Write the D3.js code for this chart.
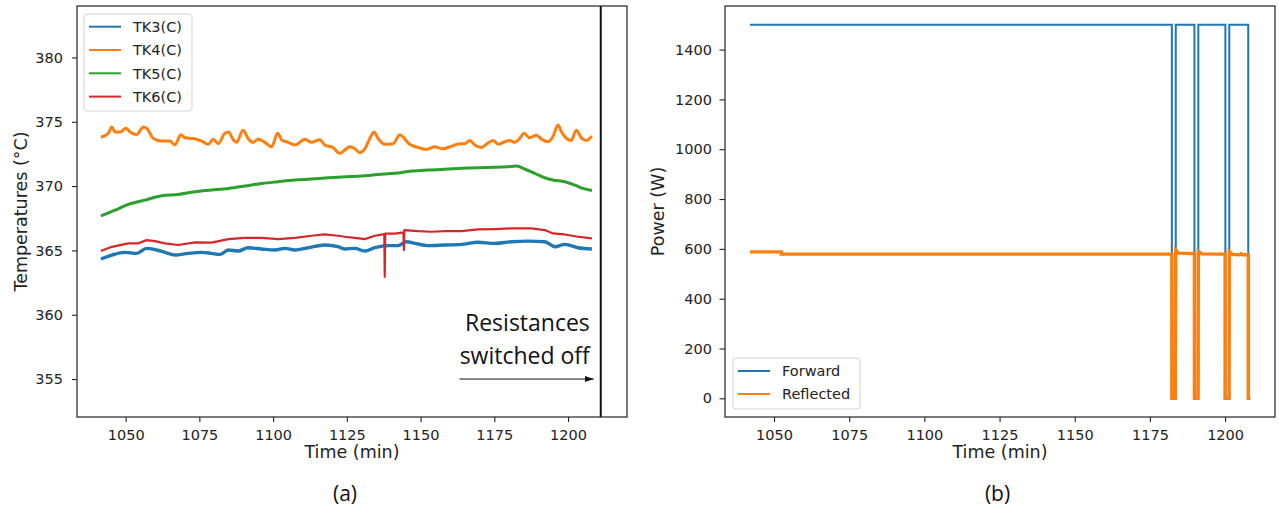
<!DOCTYPE html>
<html>
<head>
<meta charset="utf-8">
<script src="https://cdn.jsdelivr.net/npm/d3@7"></script>
<style>
	body { margin: 0; background: #fff; }
	svg { display: block; background: #fff; }
	.tick text { font-family: "DejaVu Sans", sans-serif; font-size: 14.5px; fill: #222; }
	.tick line { stroke: #222; stroke-width: 1.1; }
	.domain { display: none; }
	.axis-label { font-family: "DejaVu Sans", sans-serif; font-size: 17.5px; fill: #222; }
	.legend text { font-family: "DejaVu Sans", sans-serif; font-size: 14.5px; fill: #222; }
	.note { font-family: "Open Sans", sans-serif; font-size: 23px; fill: #111; }
	.panel { font-family: "Open Sans", sans-serif; font-size: 21px; fill: #111; }
</style>
</head>
<body>
<svg width="1279" height="512"></svg>
<script>
// ---- data ----
const timeTicks = [1050, 1075, 1100, 1125, 1150, 1175, 1200]
const tempTicks = [355, 360, 365, 370, 375, 380]
const powerTicks = [0, 200, 400, 600, 800, 1000, 1200, 1400]

const tempNames = ['TK3(C)', 'TK4(C)', 'TK5(C)', 'TK6(C)']
const powerNames = ['Forward', 'Reflected']

// [time (min), temperature (°C)]
const tk3 = [[1041.6,364.33],[1045.3,364.64],[1049.8,364.85],[1053.7,364.77],[1057.1,365.16],[1060.5,365.03],[1063.3,364.85],[1066.7,364.64],[1071.2,364.77],[1075.8,364.85],[1079.1,364.77],[1082.0,364.69],[1084.8,365.03],[1088.2,364.95],[1091.5,365.21],[1096.1,365.11],[1100.6,365.03],[1104.0,365.16],[1107.4,365.03],[1111.9,365.21],[1117.5,365.42],[1122.0,365.29],[1124.3,365.11],[1127.7,365.16],[1131.1,364.95],[1134.5,365.21],[1139.0,365.37],[1142.4,365.37],[1145.2,365.67],[1148.0,365.55],[1152.5,365.37],[1158.2,365.42],[1163.9,365.47],[1169.5,365.63],[1175.1,365.55],[1180.8,365.67],[1186.4,365.72],[1192.1,365.67],[1195.5,365.29],[1198.9,365.47],[1203.4,365.21],[1208.1,365.11]]

const tk4 = [[1041.6,373.8],[1044.1,374.1],[1045.3,374.6],[1046.4,374.2],[1048.1,374.2],[1050.1,374.5],[1051.5,374.2],[1053.7,374.0],[1056.0,374.6],[1057.1,374.5],[1059.4,373.7],[1062.2,373.5],[1065.0,373.5],[1066.7,373.2],[1068.7,374.0],[1070.1,373.75],[1072.9,373.7],[1075.8,373.5],[1078.0,373.25],[1079.7,373.65],[1081.4,373.3],[1083.6,374.1],[1084.8,374.2],[1086.5,373.6],[1087.6,373.4],[1089.8,374.35],[1091.5,373.7],[1093.2,373.4],[1094.9,373.65],[1097.2,373.4],[1099.5,373.05],[1101.5,374.1],[1102.9,373.6],[1105.1,373.4],[1107.4,373.2],[1110.8,373.65],[1113.0,373.4],[1115.8,373.6],[1117.5,373.2],[1120.3,373.0],[1122.6,372.55],[1124.3,372.8],[1126.0,373.05],[1127.7,372.9],[1129.4,372.6],[1131.1,372.9],[1132.8,373.7],[1134.2,374.2],[1135.6,373.7],[1137.9,373.25],[1140.7,373.3],[1143.0,374.0],[1144.1,373.8],[1146.3,373.25],[1149.2,373.0],[1152.0,372.85],[1154.8,373.05],[1157.6,372.9],[1160.5,373.1],[1163.3,373.3],[1165.0,373.3],[1166.7,373.55],[1168.4,373.2],[1170.6,373.0],[1172.3,373.25],[1174.6,373.55],[1176.3,373.25],[1178.5,373.45],[1180.2,373.55],[1181.9,373.4],[1183.6,373.7],[1185.1,374.1],[1187.0,373.75],[1189.3,373.95],[1191.0,373.65],[1193.2,373.45],[1194.9,373.85],[1196.6,374.75],[1197.8,374.2],[1199.5,373.7],[1201.1,373.55],[1202.8,374.35],[1204.5,373.75],[1206.2,373.55],[1208.1,373.9]]

const tk5 = [[1041.6,367.69],[1046.4,368.13],[1050.9,368.58],[1056.5,368.91],[1062.2,369.25],[1067.8,369.35],[1073.5,369.56],[1079.1,369.69],[1084.8,369.82],[1090.4,370.0],[1096.1,370.2],[1101.7,370.34],[1107.4,370.47],[1113.0,370.55],[1118.7,370.65],[1124.3,370.73],[1130.0,370.78],[1135.6,370.9],[1141.3,370.99],[1146.9,371.17],[1152.5,371.25],[1158.2,371.3],[1163.9,371.38],[1169.5,371.43],[1175.1,371.46],[1179.6,371.51],[1182.5,371.56],[1185.3,371.33],[1188.7,370.99],[1192.1,370.65],[1194.9,370.47],[1198.9,370.34],[1202.3,370.08],[1205.1,369.82],[1208.1,369.66]]

const tk6 = [[1041.6,364.95],[1045.3,365.28],[1050.9,365.55],[1054.3,365.55],[1057.1,365.8],[1059.9,365.72],[1063.3,365.55],[1067.8,365.42],[1073.5,365.63],[1079.1,365.6],[1084.8,365.88],[1090.4,365.98],[1096.1,365.98],[1101.7,365.88],[1107.4,365.98],[1113.0,366.14],[1117.5,366.24],[1122.0,366.14],[1124.3,366.06],[1127.7,365.98],[1131.1,365.88],[1134.5,366.14],[1137.7,366.27],[1137.85,362.95],[1138.0,366.3],[1141.3,366.3],[1144.2,366.4],[1144.35,365.03],[1144.5,366.58],[1149.2,366.5],[1153.7,366.45],[1158.2,366.5],[1163.9,366.5],[1169.5,366.63],[1175.1,366.66],[1180.8,366.71],[1184.2,366.71],[1187.6,366.71],[1192.1,366.58],[1194.9,366.32],[1198.9,366.24],[1203.4,366.06],[1208.1,365.93]]

// [time (min), power (W)]
const forward = [[1042,1500],[1182.3,1500],[1182.3,0],[1183.6,0],[1183.6,1500],[1189.8,1500],[1189.8,0],[1191.1,0],[1191.1,1500],[1200.1,1500],[1200.1,0],[1201.4,0],[1201.4,1500],[1207.7,1500],[1207.7,0],[1208.4,0]]

const reflected = [[1042,588],[1052.4,588],[1052.4,579],[1182.3,579],[1182.3,0],[1183.4,0],[1183.6,595],[1184.6,583],[1189.8,581],[1189.8,0],[1191.0,0],[1191.1,590],[1192.2,580],[1200.0,579],[1200.0,0],[1201.3,0],[1201.4,590],[1202.4,578],[1204.8,576],[1205.3,581],[1205.8,576],[1207.7,577],[1207.7,0],[1208.4,0]]

const switchOffTime = 1211.1

// ---- layout / style ----
let config = {
	colors: ['#1f77b4', '#ff7f0e', '#2ca02c', '#d62728'],
	tempWidths: [3.4, 3, 3, 2.2],
	left: { x0: 77, x1: 627, y0: 6, y1: 417 },
	right: { x0: 725, x1: 1275, y0: 6, y1: 417 },
}

let svg = d3.select('svg')
let fmt = d3.format('d')

function frame(box) {
	svg.append('rect')
		.attr('x', box.x0)
		.attr('y', box.y0)
		.attr('width', box.x1 - box.x0)
		.attr('height', box.y1 - box.y0)
		.attr('fill', 'none')
		.attr('stroke', '#222')
		.attr('stroke-width', 1.2)
}

function drawLegend(x, y, w, h, names, colors, rows) {
	let g = svg.append('g').attr('class', 'legend')
	g.append('rect')
		.attr('x', x).attr('y', y)
		.attr('width', w).attr('height', h)
		.attr('rx', 3)
		.attr('fill', 'white').attr('fill-opacity', 0.85)
		.attr('stroke', '#d3d3d3')
	names.forEach((n, i) => {
		g.append('line')
			.attr('x1', x + 5).attr('x2', x + 37)
			.attr('y1', rows[i]).attr('y2', rows[i])
			.attr('stroke', colors[i]).attr('stroke-width', 2)
		g.append('text')
			.attr('x', x + 49).attr('y', rows[i])
			.attr('dy', '0.36em')
			.text(n)
	})
}

function drawTemperature() {
	let box = config.left
	let xScale = d3.scaleLinear().domain([1033.5, 1220]).range([box.x0, box.x1])
	let yScale = d3.scaleLinear().domain([352.05, 384]).range([box.y1, box.y0])

	svg.append('g')
		.attr('transform', `translate(0, ${box.y1})`)
		.call(d3.axisBottom(xScale).tickValues(timeTicks).tickFormat(fmt).tickSize(5).tickPadding(8))
	svg.append('g')
		.attr('transform', `translate(${box.x0}, 0)`)
		.call(d3.axisLeft(yScale).tickValues(tempTicks).tickFormat(fmt).tickSize(5).tickPadding(9))

	let smooth = d3.line()
		.curve(d3.curveMonotoneX)
		.x(d => xScale(d[0]))
		.y(d => yScale(d[1]))
	let sharp = d3.line()
		.x(d => xScale(d[0]))
		.y(d => yScale(d[1]))

	let series = [tk3, tk4, tk5, tk6]
	series.forEach((s, i) => {
		svg.append('path')
			.datum(s)
			.attr('d', i === 3 ? sharp : smooth)
			.attr('fill', 'none')
			.attr('stroke', config.colors[i])
			.attr('stroke-width', config.tempWidths[i])
			.attr('stroke-linejoin', 'round')
	})

	// switch-off marker
	svg.append('line')
		.attr('x1', xScale(switchOffTime)).attr('x2', xScale(switchOffTime))
		.attr('y1', box.y0).attr('y2', box.y1)
		.attr('stroke', '#111').attr('stroke-width', 2)

	svg.append('text')
		.attr('class', 'note')
		.attr('text-anchor', 'end')
		.attr('x', xScale(1207.4))
		.attr('y', yScale(358.7))
		.text('Resistances')
	svg.append('text')
		.attr('class', 'note')
		.attr('text-anchor', 'end')
		.attr('x', xScale(1207.4))
		.attr('y', yScale(356.2))
		.text('switched off')

	svg.append('defs').append('marker')
		.attr('id', 'arrow')
		.attr('viewBox', '0 0 10 10')
		.attr('refX', 10).attr('refY', 5)
		.attr('markerWidth', 9).attr('markerHeight', 9)
		.attr('markerUnits', 'userSpaceOnUse')
		.attr('orient', 'auto')
		.append('path')
		.attr('d', 'M0,1.5 L10,5 L0,8.5 Z')
		.attr('fill', '#111')
	svg.append('line')
		.attr('x1', xScale(1163.2)).attr('x2', xScale(1208.7))
		.attr('y1', yScale(355)).attr('y2', yScale(355))
		.attr('stroke', '#111').attr('stroke-width', 1)
		.attr('marker-end', 'url(#arrow)')

	frame(box)
	drawLegend(84, 14, 108, 97, tempNames, config.colors, [26.7, 50, 73.3, 96.6])

	svg.append('text')
		.attr('class', 'axis-label')
		.attr('text-anchor', 'middle')
		.attr('x', (box.x0 + box.x1) / 2)
		.attr('y', 457.5)
		.text('Time (min)')
	svg.append('text')
		.attr('class', 'axis-label')
		.attr('text-anchor', 'middle')
		.attr('transform', `translate(26.5, ${(box.y0 + box.y1) / 2}) rotate(-90)`)
		.text('Temperatures (°C)')
	svg.append('text')
		.attr('class', 'panel')
		.attr('text-anchor', 'middle')
		.attr('x', 345)
		.attr('y', 501)
		.text('(a)')
}

function drawPower() {
	let box = config.right
	let xScale = d3.scaleLinear().domain([1033.7, 1216.6]).range([box.x0, box.x1])
	let yScale = d3.scaleLinear().domain([-75, 1575]).range([box.y1, box.y0])

	svg.append('g')
		.attr('transform', `translate(0, ${box.y1})`)
		.call(d3.axisBottom(xScale).tickValues(timeTicks).tickFormat(fmt).tickSize(5).tickPadding(8))
	svg.append('g')
		.attr('transform', `translate(${box.x0}, 0)`)
		.call(d3.axisLeft(yScale).tickValues(powerTicks).tickFormat(fmt).tickSize(5.5).tickPadding(7.5))

	let line = d3.line()
		.x(d => xScale(d[0]))
		.y(d => yScale(d[1]))

	svg.append('path')
		.datum(forward)
		.attr('d', line)
		.attr('fill', 'none')
		.attr('stroke', config.colors[0])
		.attr('stroke-width', 2)
	svg.append('path')
		.datum(reflected)
		.attr('d', line)
		.attr('fill', 'none')
		.attr('stroke', config.colors[1])
		.attr('stroke-width', 3.4)

	frame(box)
	drawLegend(733, 358, 127, 51, powerNames, config.colors, [371, 394])

	svg.append('text')
		.attr('class', 'axis-label')
		.attr('text-anchor', 'middle')
		.attr('x', (box.x0 + box.x1) / 2)
		.attr('y', 457.5)
		.text('Time (min)')
	svg.append('text')
		.attr('class', 'axis-label')
		.attr('text-anchor', 'middle')
		.attr('transform', `translate(663.5, ${(box.y0 + box.y1) / 2}) rotate(-90)`)
		.text('Power (W)')
	svg.append('text')
		.attr('class', 'panel')
		.attr('text-anchor', 'middle')
		.attr('x', 997.5)
		.attr('y', 501)
		.text('(b)')
}

drawTemperature()
drawPower()
</script>
</body>
</html>
